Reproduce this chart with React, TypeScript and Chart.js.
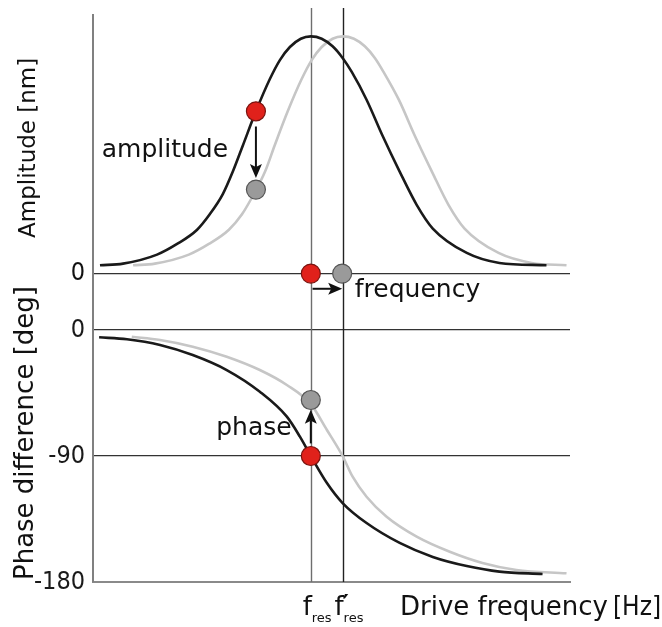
import React, { useEffect, useRef } from "react";
import { Chart, registerables } from "chart.js";

Chart.register(...registerables);

// ---- data (frequency in arbitrary units, f_res = 50) ----
const darkAmpFreq = [1.6, 6.9, 14.7, 19.3, 23.9, 26.8, 29.8, 32.1, 34.4, 37.4, 40.6, 42.9, 45.2, 47.7, 50.0, 52.5, 55.0, 57.3, 59.4, 62.8, 66.5, 70.4, 74.3, 78.0, 85.8, 93.3, 104.1];
const darkAmp = [0.035, 0.042, 0.08, 0.125, 0.185, 0.25, 0.335, 0.43, 0.54, 0.684, 0.82, 0.9, 0.955, 0.99, 1.0, 0.99, 0.958, 0.909, 0.85, 0.733, 0.58, 0.43, 0.29, 0.19, 0.087, 0.045, 0.035];

const lightAmpFreq = [9.2, 14.2, 22.0, 26.6, 31.2, 34.2, 37.2, 39.5, 41.7, 44.7, 47.9, 50.2, 52.5, 55.0, 57.3, 59.9, 62.4, 64.7, 66.7, 70.2, 73.9, 77.8, 81.6, 85.3, 93.1, 100.7, 108.7];
const lightAmp = [0.035, 0.042, 0.08, 0.125, 0.185, 0.25, 0.345, 0.43, 0.54, 0.684, 0.82, 0.9, 0.955, 0.99, 1.0, 0.99, 0.958, 0.909, 0.85, 0.733, 0.58, 0.43, 0.29, 0.19, 0.087, 0.045, 0.035];

const darkPhaseFreq = [1.4, 7.8, 15.4, 22.9, 30.7, 38.3, 44.5, 47.5, 50.0, 53.7, 57.3, 62.8, 70.4, 78.0, 85.8, 93.3, 103.2];
const darkPhase = [-5.2, -6.6, -10.7, -17.9, -28.6, -44.1, -61.9, -76.2, -90, -109.3, -123.6, -137.9, -152.1, -162.1, -168.6, -172.6, -174.3];

const lightPhaseFreq = [8.9, 15.4, 22.9, 30.7, 38.3, 44.5, 50.0, 53.7, 57.3, 59.6, 62.8, 67.4, 74.3, 81.9, 89.4, 97.2, 108.7];
const lightPhase = [-4.8, -7.1, -11.9, -19.1, -28.6, -39.3, -53, -71.4, -90, -104.8, -119.1, -133.4, -147.6, -158.4, -166.4, -171.4, -173.8];

// resonance frequencies (vertical marker lines)
const resFreq = [50.0, 57.3];
const resPrime = [false, true];

// marker points
const redAmpFreq = [37.4, 50.0];
const redAmpVal = [0.684, 0];
const grayAmpFreq = [37.4, 57.2];
const grayAmpVal = [0.354, 0];
const redPhaseFreq = [50.0];
const redPhaseVal = [-90];
const grayPhaseFreq = [50.0];
const grayPhaseVal = [-50];

// arrows (data units)
const arrowAxis = ["yA", "yA", "yP"];
const arrowFromX = [37.4, 50.4, 50.0];
const arrowFromY = [0.62, -0.064, -81];
const arrowToX = [37.4, 57.2, 50.0];
const arrowToY = [0.403, -0.064, -57];

// annotation labels
const noteText = ["amplitude", "frequency", "phase"];
const noteAxis = ["yA", "yA", "yP"];
const noteX = [31.0, 60.1, 45.6];
const noteY = [0.49, -0.1, -75];
const noteAlign = ["right", "left", "right"];

// axis ticks
const ampTicks = [0];
const phaseTicks = [0, -90, -180];

const COMIC = "'DejaVu Sans', sans-serif";
const NARROW = "'Liberation Sans Narrow', 'DejaVu Sans Condensed', sans-serif";

const pts = (xs: number[], ys: number[]) => xs.map((x, i) => ({ x, y: ys[i] }));

export default function App() {
  const ref = useRef<HTMLCanvasElement>(null);

  useEffect(() => {
    if (!ref.current) return;

    const annot = {
      id: "annot",
      beforeDatasetsDraw(chart: any) {
        const { ctx, scales, chartArea } = chart;
        ctx.save();
        resFreq.forEach((f, i) => {
          const px = Math.round(scales.x.getPixelForValue(f)) + 0.5;
          ctx.strokeStyle = i === 0 ? "#6e6e6e" : "#222";
          ctx.lineWidth = 1.4;
          ctx.beginPath();
          ctx.moveTo(px, chartArea.bottom);
          ctx.lineTo(px, chartArea.top - 7);
          ctx.stroke();
        });
        ctx.restore();
      },
      afterDatasetsDraw(chart: any) {
        const { ctx, scales, chartArea } = chart;
        const xs = scales.x;
        ctx.save();
        ctx.fillStyle = "#111";
        ctx.strokeStyle = "#111";
        // arrows
        for (let i = 0; i < arrowAxis.length; i++) {
          const ys = scales[arrowAxis[i]];
          const x1 = xs.getPixelForValue(arrowFromX[i]);
          const y1 = ys.getPixelForValue(arrowFromY[i]);
          const x2 = xs.getPixelForValue(arrowToX[i]);
          const y2 = ys.getPixelForValue(arrowToY[i]);
          const ang = Math.atan2(y2 - y1, x2 - x1);
          const hl = 14, hw = 6;
          const c = Math.cos(ang), s = Math.sin(ang);
          const bx = x2 - c * hl, by = y2 - s * hl;
          ctx.lineWidth = 2;
          ctx.beginPath();
          ctx.moveTo(x1, y1);
          ctx.lineTo(bx + c * 3, by + s * 3);
          ctx.stroke();
          ctx.beginPath();
          ctx.moveTo(x2, y2);
          ctx.lineTo(bx - s * hw, by + c * hw);
          ctx.lineTo(bx + c * 3, by + s * 3);
          ctx.lineTo(bx + s * hw, by - c * hw);
          ctx.closePath();
          ctx.fill();
        }
        // amplitude tick labels
        ctx.font = `25px ${NARROW}`;
        ctx.textAlign = "right";
        ctx.textBaseline = "middle";
        ampTicks.forEach((v) => {
          ctx.fillText(String(v), chartArea.left - 8, scales.yA.getPixelForValue(v));
        });
        // annotation labels
        ctx.font = `25px ${COMIC}`;
        ctx.textBaseline = "alphabetic";
        for (let i = 0; i < noteText.length; i++) {
          const ys = scales[noteAxis[i]];
          ctx.textAlign = noteAlign[i];
          ctx.fillText(noteText[i], xs.getPixelForValue(noteX[i]), ys.getPixelForValue(noteY[i]));
        }
        // axis titles
        ctx.textAlign = "center";
        ctx.textBaseline = "middle";
        ctx.save();
        ctx.translate(chartArea.left - 64, scales.yA.getPixelForValue(0.53));
        ctx.rotate(-Math.PI / 2);
        ctx.font = `23px ${COMIC}`;
        ctx.fillText("Amplitude [nm]", 0, 0);
        ctx.restore();
        ctx.save();
        ctx.translate(chartArea.left - 67, scales.yP.getPixelForValue(-73.6));
        ctx.rotate(-Math.PI / 2);
        ctx.font = `26px ${COMIC}`;
        ctx.fillText("Phase difference [deg]", 0, 0);
        ctx.restore();
        // x labels
        const base = chartArea.bottom + 33;
        ctx.textBaseline = "alphabetic";
        ctx.textAlign = "left";
        resFreq.forEach((f, i) => {
          const px = xs.getPixelForValue(f);
          ctx.font = `26px ${COMIC}`;
          ctx.fillText("f", px - 8, base);
          if (resPrime[i]) {
            ctx.font = `bold 24px ${COMIC}`;
            ctx.fillText("\u2032", px, base - 3);
          }
          ctx.font = `13px ${COMIC}`;
          ctx.fillText("res", px + 1, base + 7);
        });
        ctx.font = `26px ${COMIC}`;
        ctx.fillText("Drive frequency", chartArea.left + 307, base);
        const w = ctx.measureText("Drive frequency").width;
        ctx.font = `26px ${NARROW}`;
        ctx.fillText("[Hz]", chartArea.left + 307 + w + 5, base);
        ctx.restore();
      },
    };

    const pointDs = (data: any[], axis: string, fill: string, border: string) => ({
      data,
      yAxisID: axis,
      showLine: false,
      pointRadius: 9.5,
      pointHoverRadius: 9.5,
      pointBackgroundColor: fill,
      pointBorderColor: border,
      pointBorderWidth: 1.2,
      clip: false,
    });
    const curveDs = (data: any[], axis: string, color: string) => ({
      data,
      yAxisID: axis,
      borderColor: color,
      borderWidth: 2.6,
      pointRadius: 0,
      fill: false,
      cubicInterpolationMode: "monotone",
    });

    const noPadY = (s: any, w: number) => {
      s.width = w;
      s.paddingTop = 0;
      s.paddingBottom = 0;
    };

    const chart = new Chart(ref.current, {
      type: "line",
      data: {
        datasets: [
          pointDs(pts(redAmpFreq, redAmpVal), "yA", "#e0211b", "#7a1410"),
          pointDs(pts(grayAmpFreq, grayAmpVal), "yA", "#9a9a9a", "#555"),
          pointDs(pts(redPhaseFreq, redPhaseVal), "yP", "#e0211b", "#7a1410"),
          pointDs(pts(grayPhaseFreq, grayPhaseVal), "yP", "#9a9a9a", "#555"),
          curveDs(pts(darkAmpFreq, darkAmp), "yA", "#1a1a1a"),
          curveDs(pts(darkPhaseFreq, darkPhase), "yP", "#1a1a1a"),
          curveDs(pts(lightAmpFreq, lightAmp), "yA", "#c6c6c6"),
          curveDs(pts(lightPhaseFreq, lightPhase), "yP", "#c6c6c6"),
        ] as any,
      },
      options: {
        animation: false,
        responsive: true,
        maintainAspectRatio: false,
        layout: { padding: { top: 15, right: 92, left: 0, bottom: 0 } },
        plugins: { legend: { display: false }, tooltip: { enabled: false } },
        scales: {
          x: {
            type: "linear",
            min: 0,
            max: 109.5,
            ticks: { display: false },
            grid: { display: false, drawTicks: false },
            border: { display: true, color: "#8a8a8a", width: 2 },
            afterFit: (s: any) => {
              s.height = 45;
              s.paddingLeft = 0;
              s.paddingRight = 0;
            },
          },
          yP: {
            type: "linear",
            position: "left",
            weight: 1,
            min: -180,
            max: 225,
            afterBuildTicks: (s: any) => { s.ticks = phaseTicks.map((v) => ({ value: v })); },
            afterFit: (s: any) => noPadY(s, 93),
            ticks: {
              padding: 8,
              color: "#1a1a1a",
              font: { family: NARROW, size: 25 },
              callback: (v: any) => String(v),
            },
            grid: {
              drawTicks: false,
              color: (c: any) => (c.tick && c.tick.value === -180 ? "rgba(0,0,0,0)" : "#333"),
              lineWidth: 1.2,
            },
            border: { display: true, color: "#808080", width: 2 },
          },
          yA: {
            type: "linear",
            position: "left",
            weight: 0,
            min: -1.3,
            max: 1.09,
            afterBuildTicks: (s: any) => { s.ticks = ampTicks.map((v) => ({ value: v })); },
            afterFit: (s: any) => noPadY(s, 0),
            ticks: { display: false },
            grid: { drawTicks: false, color: "#333", lineWidth: 1.2 },
            border: { display: false },
          },
        },
      } as any,
      plugins: [annot],
    });
    return () => chart.destroy();
  }, []);

  return (
    <div style={{ position: "absolute", left: 0, top: 0, width: 662, height: 627 }}>
      <canvas ref={ref} />
    </div>
  );
}
